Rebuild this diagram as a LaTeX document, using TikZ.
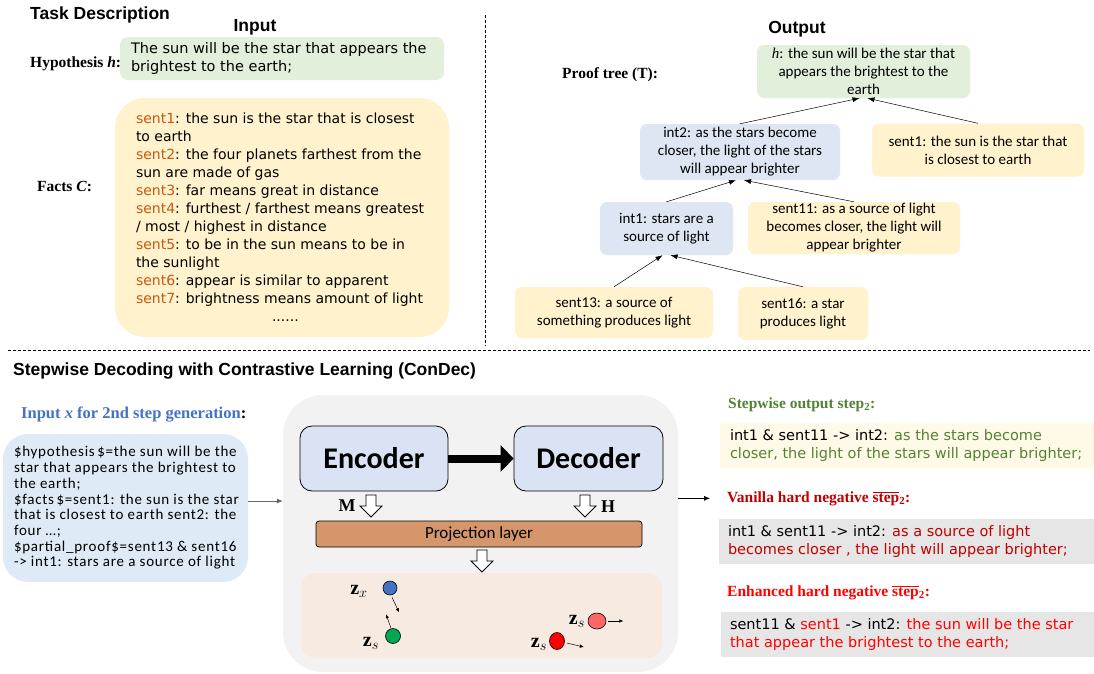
\documentclass[tikz,border=0pt]{standalone}
\usepackage{fontspec}
\setmainfont{Carlito}
\newfontfamily\lucfont{DejaVu Sans}
\newfontfamily\timesfont{Liberation Serif}
\newfontfamily\arialfont{Liberation Sans}
\usetikzlibrary{arrows.meta,shapes.geometric}

\definecolor{hypgreen}{RGB}{226,239,218}
\definecolor{factyellow}{RGB}{255,242,204}
\definecolor{intblue}{RGB}{222,230,243}
\definecolor{sentorange}{RGB}{197,90,17}
\definecolor{inpblue}{RGB}{222,234,246}
\definecolor{panelgrey}{RGB}{242,242,242}
\definecolor{encblue}{RGB}{218,227,243}
\definecolor{projbrown}{RGB}{214,150,108}
\definecolor{zpeach}{RGB}{247,234,225}
\definecolor{titleblue}{RGB}{68,114,196}
\definecolor{stepgreen}{RGB}{84,130,53}
\definecolor{outcream}{RGB}{255,249,232}
\definecolor{neggrey}{RGB}{231,230,230}
\definecolor{darkred}{RGB}{192,0,0}
\definecolor{zgreen}{RGB}{0,166,81}
\definecolor{zlightred}{RGB}{255,102,102}

\newcommand{\sn}[1]{\textcolor{sentorange}{#1}}
\newcommand{\zvec}[1]{{\timesfont\bfseries z}$_{#1}$}

\begin{document}
\begin{tikzpicture}[x=1pt,y=-1pt,
    title/.style={font=\arialfont\bfseries\fontsize{17.5}{20}\selectfont, inner sep=0},
    serlbl/.style={font=\timesfont\bfseries\fontsize{15.5}{18}\selectfont, inner sep=0},
    tree/.style={rounded corners=7pt, align=center, inner sep=0, font=\fontsize{15}{18}\selectfont},
    lucida/.style={align=left, inner sep=0, font=\lucfont\fontsize{14}{18}\selectfont},
    wide lucida/.style={align=left, inner sep=0, font=\lucfont\fontsize{14.5}{18}\selectfont},
    link/.style={-{Latex[length=7pt,width=5pt]}, line width=0.5pt},
    zdot/.style={draw, line width=0.6pt, inner sep=0},
    zlink/.style={-{Latex[length=4pt,width=3.5pt]}, line width=0.5pt},
    zlbl/.style={inner sep=0, font=\fontsize{20}{24}\selectfont},
    hollow down/.pic={\draw[fill=white, line width=0.8pt] (-5,0) -- (5,0) -- (5,11) -- (11,11) -- (0,22) -- (-11,11) -- (-5,11) -- cycle;}]
    \fill[white] (0,0) rectangle (1094,673);
    \useasboundingbox (0,0) rectangle (1094,673);

    \node[title, anchor=base west] (taskt) at (30,19) {Task Description};
    \node[title, anchor=base] (inputt) at (255,31) {Input};
    \node[title, anchor=base] (outputt) at (797,33) {Output};
    \draw[dash pattern=on 3pt off 2pt, line width=0.6pt] (485,15) -- (485,346);
    \draw[dash pattern=on 3pt off 2pt, line width=0.6pt] (8,350) -- (1090,350);

    \node[serlbl, anchor=base west] (hyplbl) at (30,67) {Hypothesis \textit{h}:};
    \node[fill=hypgreen, rounded corners=8pt, minimum width=324pt, minimum height=43pt, inner sep=0] (hyp) at (282,58.5) {};
    \node[wide lucida, anchor=west] (hyptext) at ([xshift=11pt]hyp.west) {The sun will be the star that appears the\\brightest to the earth;};

    \node[serlbl, anchor=base west] (factlbl) at (37,191) {Facts \textit{C}:};
    \node[fill=factyellow, rounded corners=30pt, minimum width=334pt, minimum height=239pt, inner sep=0] (facts) at (282,217.5) {};
    \node[lucida, anchor=west] (factstext) at ([xshift=21pt]facts.west) {\sn{sent1}: the sun is the star that is closest\\
        to earth\\
        \sn{sent2}: the four planets farthest from the\\
        sun are made of gas\\
        \sn{sent3}: far means great in distance\\
        \sn{sent4}: furthest / farthest means greatest\\
        / most / highest in distance\\
        \sn{sent5}: to be in the sun means to be in\\
        the sunlight\\
        \sn{sent6}: appear is similar to apparent\\
        \sn{sent7}: brightness means amount of light\\
        \hspace*{136pt}......};

    \node[serlbl, anchor=base west] (prooflbl) at (562,78) {Proof tree (\textbf{T}):};
    \node[tree, fill=hypgreen, minimum width=213pt, minimum height=53pt] (h) at (863.5,71.5) {{\timesfont\itshape h}: the sun will be the star that\\appears the brightest to the\\earth};
    \node[tree, fill=intblue, minimum width=200pt, minimum height=56pt] (int2) at (740,152) {int2: as the stars become\\closer, the light of the stars\\will appear brighter};
    \node[tree, fill=factyellow, minimum width=212pt, minimum height=53pt] (s1) at (978,150) {sent1: the sun is the star that\\is closest to earth};
    \node[tree, fill=intblue, minimum width=133pt, minimum height=53pt] (int1) at (666.5,228.5) {int1: stars are a\\source of light};
    \node[tree, fill=factyellow, minimum width=212pt, minimum height=52pt] (s11) at (854,228) {sent11: as a source of light\\becomes closer, the light will\\appear brighter};
    \node[tree, fill=factyellow, minimum width=198pt, minimum height=51pt] (s13) at (614,312.5) {sent13: a source of\\something produces light};
    \node[tree, fill=factyellow, minimum width=130pt, minimum height=53pt] (s16) at (803,313.5) {sent16: a star\\produces light};
    \draw[link] (int2.north) -- ([xshift=-4pt]h.south);
    \draw[link] (s1.north) -- ([xshift=4pt]h.south);
    \draw[link] (int1.north) -- ([xshift=-4pt]int2.south);
    \draw[link] (s11.north) -- ([xshift=4pt]int2.south);
    \draw[link] (s13.north) -- ([xshift=-4pt]int1.south);
    \draw[link] (s16.north) -- ([xshift=4pt]int1.south);

    \node[title, anchor=base west] (steptitle) at (13,375) {Stepwise Decoding with Contrastive Learning (ConDec)};
    \node[font=\timesfont\bfseries\fontsize{16.5}{20}\selectfont, anchor=base west, inner sep=0] (inplbl) at (21,418) {\textcolor{titleblue}{Input \textit{x} for 2nd step generation}:};
    \node[fill=inpblue, rounded corners=25pt, minimum width=245pt, minimum height=148pt, inner sep=0] (inp) at (125.5,508) {};
    \node[align=left, inner sep=0, anchor=west, font=\fontsize{15}{15.7}\selectfont\addfontfeature{LetterSpace=5}] (inptext) at ([xshift=11pt]inp.west) {\$hypothesis\,\$=the sun will be the\\
        star that appears the brightest to\\
        the earth;\\
        \$facts\,\$=sent1: the sun is the star\\
        that is closest to earth sent2: the\\
        four \ldots;\\
        \$partial\_proof\$=sent13 \& sent16\\
        -> int1: stars are a source of light};

    \node[fill=panelgrey, rounded corners=40pt, minimum width=395pt, minimum height=277pt, inner sep=0] (panel) at (480.5,533.5) {};
    \draw[-{Latex[length=6pt,width=5pt]}, line width=0.6pt, black!60] ([yshift=7pt]inp.east) -- ([yshift=7pt]inp.east -| panel.west);

    \node[draw, line width=0.8pt, fill=encblue, rounded corners=12pt, minimum width=148pt, minimum height=65pt, font=\bfseries\fontsize{30}{36}\selectfont] (enc) at (374,458.5) {Encoder};
    \node[draw, line width=0.8pt, fill=encblue, rounded corners=12pt, minimum width=149pt, minimum height=65pt, font=\bfseries\fontsize{30}{36}\selectfont] (dec) at (588.5,458.5) {Decoder};
    \draw[line width=8pt, -{Triangle[length=13pt,width=26pt]}] (enc.east) -- (dec.west);

    \pic at (371,495) {hollow down};
    \pic at (585,495) {hollow down};
    \node[font=\timesfont\bfseries\fontsize{18}{20}\selectfont, inner sep=0] (mlab) at (347,506) {M};
    \node[font=\timesfont\bfseries\fontsize{18}{20}\selectfont, inner sep=0] (hlab) at (608,507) {H};
    \node[draw, line width=0.7pt, fill=projbrown, rounded corners=3pt, minimum width=326pt, minimum height=26pt, inner sep=0, font=\fontsize{17}{20}\selectfont] (proj) at (479,534) {Projection layer};
    \pic at (482,550) {hollow down};

    \node[fill=zpeach, rounded corners=15pt, minimum width=361pt, minimum height=85pt, inner sep=0] (zone) at (481.5,615.5) {};
    \node[zdot, circle, fill=titleblue, minimum size=14pt] (zx) at (390,588) {};
    \node[zdot, circle, fill=zgreen, minimum size=15pt] (zpos) at (393,636) {};
    \node[zdot, ellipse, fill=zlightred, minimum width=18pt, minimum height=16pt] (zneg) at (597,621) {};
    \node[zdot, ellipse, fill=red, minimum width=15pt, minimum height=17pt] (zhard) at (557,641) {};
    \node[zlbl] (zxl) at (359,591) {\zvec{x}};
    \node[zlbl] (zposl) at (371,643) {\zvec{s}};
    \node[zlbl] (znegl) at (577,621) {\zvec{s}};
    \node[zlbl] (zhardl) at (539,644) {\zvec{s}};
    \draw[zlink] ([shift={(2,2)}]zx.south) -- +(7,15);
    \draw[zlink] ([xshift=-2pt]zpos.north) -- +(-5,-14);
    \draw[zlink] ([xshift=2pt]zneg.east) -- +(15,0);
    \draw[zlink] ([shift={(2,2)}]zhard.east) -- +(17,4);

    \node[serlbl, text=stepgreen, anchor=base west] (poslbl) at (728,408) {Stepwise output step\textsubscript{2}:};
    \node[fill=outcream, minimum width=374pt, minimum height=45pt, inner sep=0] (pos) at (907,445.5) {};
    \node[wide lucida, anchor=west] (postext) at ([xshift=10pt]pos.west) {int1 \& sent11 -> int2: \textcolor{stepgreen}{as the stars become}\\
        \textcolor{stepgreen}{closer, the light of the stars will appear brighter;}};

    \node[serlbl, text=darkred, anchor=base west] (vanlbl) at (727,502) {Vanilla hard negative $\overline{\mbox{step}}$\textsubscript{2}:};
    \node[fill=neggrey, minimum width=375pt, minimum height=45pt, inner sep=0] (van) at (906.5,541.5) {};
    \node[wide lucida, anchor=west] (vantext) at ([xshift=9pt]van.west) {int1 \& sent11 -> int2: \textcolor{darkred}{as a source of light}\\
        \textcolor{darkred}{becomes closer , the light will appear brighter;}};
    \draw[-{Latex[length=6pt,width=5pt]}, line width=0.6pt] (panel.east |- vanlbl.west) -- ([xshift=-17pt]vanlbl.west);

    \node[serlbl, text=red, anchor=base west] (enhlbl) at (727,596) {Enhanced hard negative $\overline{\mbox{step}}$\textsubscript{2}:};
    \node[fill=neggrey, minimum width=373pt, minimum height=45pt, inner sep=0] (enh) at (907.5,634.5) {};
    \node[wide lucida, anchor=west] (enhtext) at ([xshift=9pt]enh.west) {sent11 \& \textcolor{red}{sent1} -> int2: \textcolor{red}{the sun will be the star}\\
        \textcolor{red}{that appear the brightest to the earth;}};
\end{tikzpicture}
\end{document}
